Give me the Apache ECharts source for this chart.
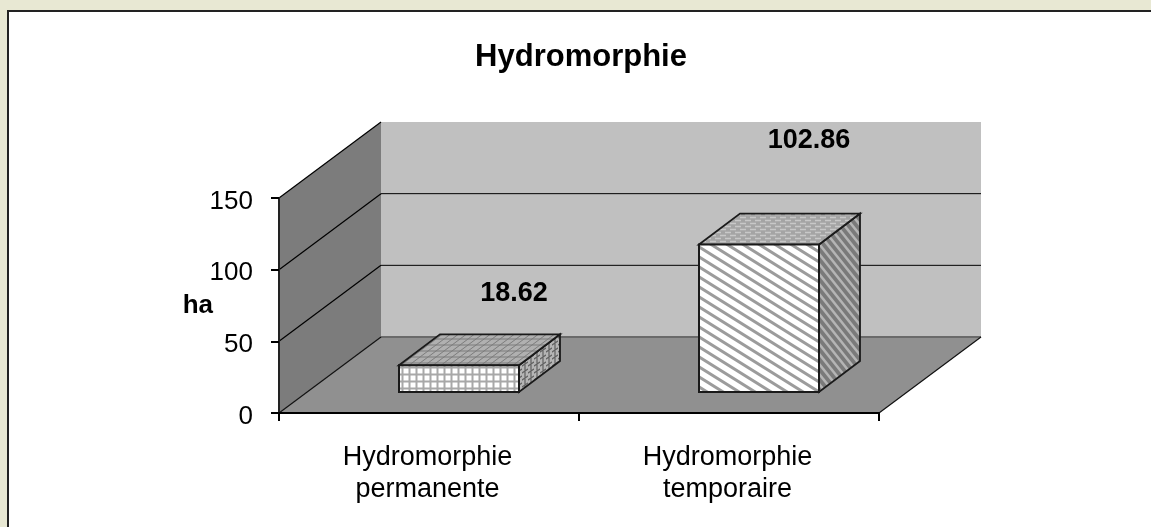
<!DOCTYPE html>
<html>
<head>
<meta charset="utf-8">
<style>html,body{margin:0;padding:0;background:#e8e8d3}#c{width:1151px;height:527px}</style>
<script src="https://cdn.jsdelivr.net/npm/echarts@6/dist/echarts.min.js"></script>
</head>
<body>
<div id="c"></div>
<script>
const categories = ['Hydromorphie\npermanente', 'Hydromorphie\ntemporaire'];
const hectares = [18.62, 102.86];
const valueLabels = ['18.62', '102.86'];
const chartTitle = 'Hydromorphie';
const valueAxisName = 'ha';

function tile(w, h, bg, draw) {
  const c = document.createElement('canvas');
  c.width = w; c.height = h;
  const x = c.getContext('2d');
  x.fillStyle = bg; x.fillRect(0, 0, w, h);
  draw(x);
  return { image: c, repeat: 'repeat' };
}
function seg(x, col, lw, pts) {
  x.strokeStyle = col; x.lineWidth = lw; x.beginPath();
  for (let i = 0; i < pts.length; i += 4) { x.moveTo(pts[i], pts[i+1]); x.lineTo(pts[i+2], pts[i+3]); }
  x.stroke();
}
const fills = [
  {
    front: tile(7, 7, '#ffffff', x => seg(x, '#a8a8a8', 2, [3.5,0,3.5,7, 0,3.5,7,3.5])),
    top: tile(8, 6, '#b0b0b0', x => seg(x, '#7c7c7c', 1, [0,3,8,3, -4,3,4,-3, 4,9,12,3, 0,6,8,0])),
    side: tile(6, 7, '#b4b4b4', x => seg(x, '#606060', 1.2, [3,0,3,7, -3,4,3,0, 3,7,9,3, 0,2,3,0]))
  },
  {
    front: tile(16, 10, '#ffffff', x => seg(x, '#9c9c9c', 3, [-16,-10,16,10, 0,-10,32,10, -32,-10,16,20])),
    top: tile(10, 6, '#a4a4a4', x => seg(x, '#c8c8c8', 1.4, [0,1.5,6,1.5, 5,4.5,10,4.5, -5,4.5,1,4.5])),
    side: tile(8, 10, '#7a7a7a', x => seg(x, '#b4b4b4', 2.5, [-8,-10,8,10, 0,-10,16,10, -16,-10,8,20, -8,0,8,20]))
  }
];

function renderRoom(params, api) {
  const cs = params.coordSys;
  const L = cs.x, R = cs.x + cs.width, dx = 102, dy = -76;
  const y0 = api.coord([0, 0])[1], yTop = api.coord([0, 150])[1];
  const kids = [
    { type: 'polygon', shape: { points: [[L+dx, yTop+dy], [R+dx, yTop+dy], [R+dx, y0+dy], [L+dx, y0+dy]] }, style: { fill: '#c0c0c0' } },
    { type: 'polygon', shape: { points: [[L, yTop], [L+dx, yTop+dy], [L+dx, y0+dy], [L, y0]] }, style: { fill: '#7c7c7c' } },
    { type: 'polygon', shape: { points: [[L, y0], [L+dx, y0+dy], [R+dx, y0+dy], [R, y0]] }, style: { fill: '#909090' } },
    { type: 'line', shape: { x1: L+dx, y1: y0+dy, x2: R+dx, y2: y0+dy }, style: { stroke: '#6a6a6a', lineWidth: 2 } },
    { type: 'line', shape: { x1: L, y1: y0, x2: L+dx, y2: y0+dy }, style: { stroke: '#111', lineWidth: 1.2 } },
    { type: 'line', shape: { x1: R, y1: y0, x2: R+dx, y2: y0+dy }, style: { stroke: '#111', lineWidth: 1.2 } }
  ];
  [50, 100, 150].forEach(v => {
    const y = api.coord([0, v])[1];
    kids.push({ type: 'line', shape: { x1: L, y1: y, x2: L+dx, y2: y+dy }, style: { stroke: '#000', lineWidth: 1.2 } });
    if (v < 150) kids.push({ type: 'line', shape: { x1: L+dx, y1: y+dy, x2: R+dx, y2: y+dy }, style: { stroke: '#000', lineWidth: 1 } });
  });
  return { type: 'group', children: kids };
}

function renderBar(params, api) {
  const i = api.value(0), v = api.value(1);
  const bw = api.size([1, 0])[0] * 0.4;
  const baseX = api.coord([i, 0])[0] + 30 - bw / 2;
  const lift = 21, dx = 41, dy = -31;
  const yb = api.coord([i, 0])[1] - lift;
  const yt = api.coord([i, v])[1] - lift;
  const xr = baseX + bw;
  const f = fills[i];
  const edge = { stroke: '#1a1a1a', lineWidth: 1.8, lineJoin: 'miter' };
  return {
    type: 'group',
    children: [
      { type: 'polygon', shape: { points: [[xr, yt], [xr+dx, yt+dy], [xr+dx, yb+dy], [xr, yb]] }, style: Object.assign({ fill: f.side }, edge) },
      { type: 'polygon', shape: { points: [[baseX, yt], [baseX+dx, yt+dy], [xr+dx, yt+dy], [xr, yt]] }, style: Object.assign({ fill: f.top }, edge) },
      { type: 'polygon', shape: { points: [[baseX, yt], [xr, yt], [xr, yb], [baseX, yb]] }, style: Object.assign({ fill: f.front }, edge, { lineWidth: 2 }) },
      { type: 'text', style: { text: valueLabels[i], x: baseX + bw/2 + (i === 0 ? 55 : 50), y: yt - (i === 0 ? 72 : 104), fill: '#000', align: 'center', verticalAlign: 'middle', font: 'bold 27px "Liberation Sans"' } }
    ]
  };
}

const chart = echarts.init(document.getElementById('c'));
chart.setOption({
  animation: false,
  backgroundColor: '#e8e8d3',
  textStyle: { fontFamily: '"Liberation Sans"' },
  title: {
    text: chartTitle, left: 576, top: 52, textAlign: 'center', textVerticalAlign: 'middle',
    textStyle: { fontFamily: '"Liberation Sans"', fontWeight: 'bold', fontSize: 31, color: '#000' }
  },
  graphic: [{
    type: 'rect', z: -10, silent: true,
    shape: { x: 8, y: 11, width: 1300, height: 700 },
    style: { fill: '#ffffff', stroke: '#222', lineWidth: 2 }
  }],
  grid: { left: 279, right: 272, top: 198, bottom: 114 },
  xAxis: {
    type: 'category', data: categories, z: 5,
    axisLine: { lineStyle: { color: '#000', width: 2 } },
    axisTick: { show: true, length: 8, alignWithLabel: false, lineStyle: { color: '#000', width: 2 } },
    axisLabel: { fontSize: 27, color: '#000', lineHeight: 32, margin: 29, padding: [0, 3, 0, 0], fontFamily: '"Liberation Sans"', interval: 0 },
    splitLine: { show: false }
  },
  yAxis: {
    type: 'value', min: 0, max: 150, interval: 50, z: 5,
    name: valueAxisName, nameLocation: 'middle', nameGap: 66, nameRotate: 0, nameMoveOverlap: false,
    nameTextStyle: { fontSize: 26, fontWeight: 'bold', color: '#000', fontFamily: '"Liberation Sans"' },
    axisLine: { show: true, lineStyle: { color: '#222', width: 2 } },
    axisTick: { show: true, length: 8, lineStyle: { color: '#000', width: 2 } },
    axisLabel: {
      margin: 26, formatter: '{a|{value}}',
      rich: { a: { fontSize: 26, color: '#000', padding: [7, 0, 0, 0], fontFamily: '"Liberation Sans"' } }
    },
    splitLine: { show: false }
  },
  series: [
    { type: 'custom', z: 1, silent: true, clip: false, data: [[0, 0]], encode: { x: 0, y: 1 }, renderItem: renderRoom },
    { type: 'custom', z: 2, silent: true, clip: false, data: hectares.map((v, i) => [i, v]), encode: { x: 0, y: 1 }, renderItem: renderBar }
  ]
});
</script>
</body>
</html>
